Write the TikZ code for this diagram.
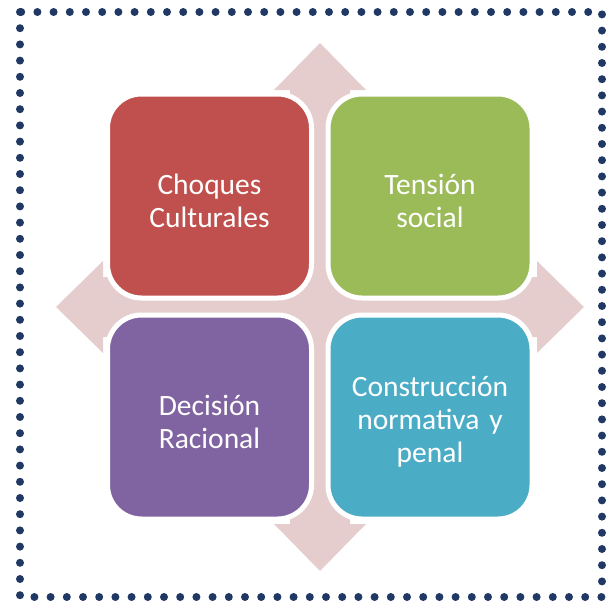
\documentclass[tikz,border=0pt]{standalone}
\usepackage{fontspec}
\setmainfont{Carlito}
\definecolor{choque}{HTML}{C0504D}
\definecolor{tension}{HTML}{9BBB59}
\definecolor{decision}{HTML}{8064A2}
\definecolor{norma}{HTML}{4BACC6}
\definecolor{cruz}{HTML}{E6CDCD}
\definecolor{marco}{HTML}{203864}
\tikzset{
  quad/.style={draw=white, line width=5pt, rounded corners=34pt,
    minimum size=204pt, text width=190pt, align=center, inner sep=0pt,
    text=white, font=\fontsize{29.5}{33}\selectfont,
    execute at end node={\par\vspace*{-10pt}}}
}
\begin{document}
\begin{tikzpicture}[x=1pt,y=-1pt]
  \useasboundingbox (0,0) rectangle (606,603);
  % dotted frame
  \draw[marco, line width=8pt, line cap=round, dash pattern=on 0pt off 16.2pt]
    (20,12) rectangle (602,597);
  % four-way arrow behind the boxes
  \fill[cruz, shift={(320,307)}]
    (30,-30) -- (217,-30) -- (217,-46) -- (264,0) -- (217,46) -- (217,30)
    -- (30,30) -- (30,217) -- (46,217) -- (0,264) -- (-46,217) -- (-30,217)
    -- (-30,30) -- (-217,30) -- (-217,46) -- (-264,0) -- (-217,-46) -- (-217,-30)
    -- (-30,-30) -- (-30,-217) -- (-46,-217) -- (0,-264) -- (46,-217) -- (30,-217)
    -- cycle;
  \node[quad, fill=choque] (choques) at (209.5,196) {Choques\\Culturales};
  \node[quad, fill=tension] (tension) at (430,196) {Tensión\\social};
  \node[quad, fill=decision] (decision) at (209.5,417) {Decisión\\Racional};
  \node[quad, fill=norma] (norma) at (430,417) {Construcción\\normativa y\\penal};
\end{tikzpicture}
\end{document}
